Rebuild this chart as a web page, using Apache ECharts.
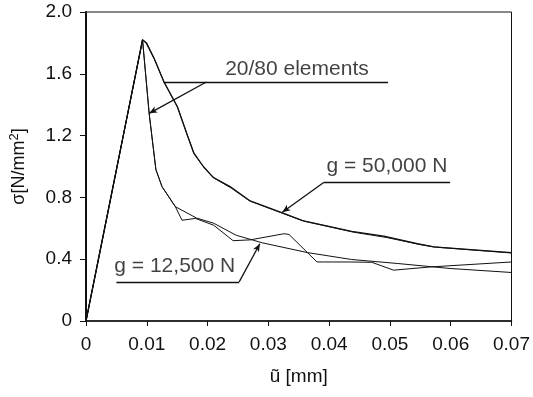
<!DOCTYPE html>
<html><head><meta charset="utf-8">
<script src="https://cdn.jsdelivr.net/npm/echarts@6/dist/echarts.min.js"></script>
<style>html,body{margin:0;padding:0;background:#fff}#c{width:533px;height:397px}</style>
</head><body><div id="c"></div>
<script>
// x ticks
const xTicks = [0, 0.01, 0.02, 0.03, 0.04, 0.05, 0.06, 0.07];
const yTicks = [0, 0.4, 0.8, 1.2, 1.6, 2.0];
// g = 50,000 N (20 and 80 elements)
const upper20 = [[0,0],[0.0093,1.82],[0.0099,1.80],[0.0112,1.70],[0.0128,1.55],[0.015,1.39],[0.0166,1.21],[0.0177,1.09],[0.0193,1.00],[0.0209,0.93],[0.0237,0.87],[0.0269,0.78],[0.0323,0.70],[0.0356,0.65],[0.0437,0.58],[0.049,0.55],[0.0545,0.50],[0.0572,0.48],[0.07,0.443]];
const upper80 = [[0,0],[0.0093,1.82],[0.0100,1.80],[0.0113,1.69],[0.0129,1.54],[0.0151,1.38],[0.0167,1.20],[0.0178,1.08],[0.0195,0.99],[0.0211,0.925],[0.0239,0.86],[0.0270,0.775],[0.0325,0.695],[0.0360,0.645],[0.0440,0.575],[0.0495,0.540],[0.0550,0.495],[0.0575,0.478],[0.07,0.440]];
// g = 12,500 N (jagged and smoother)
const lowerA = [[0,0],[0.0093,1.82],[0.0104,1.34],[0.0115,0.98],[0.0125,0.87],[0.0147,0.74],[0.0158,0.652],[0.018,0.664],[0.021,0.62],[0.0242,0.52],[0.027,0.525],[0.0326,0.565],[0.0334,0.56],[0.038,0.382],[0.0431,0.382],[0.047,0.38],[0.0506,0.329],[0.0567,0.35],[0.07,0.382]];
const lowerB = [[0,0],[0.0093,1.82],[0.0104,1.34],[0.0115,0.98],[0.0125,0.87],[0.0147,0.74],[0.0182,0.666],[0.021,0.633],[0.0247,0.555],[0.029,0.506],[0.0364,0.443],[0.0437,0.398],[0.0513,0.372],[0.0599,0.34],[0.07,0.314]];
// annotations (data coordinates)
const ann2080 = {text:'20/80 elements', textAt:[0.0347,1.63], line:[[0.0128,1.547],[0.0497,1.547]], leader:[[0.0198,1.547],[0.0104,1.344]]};
const ann50 = {text:'g = 50,000 N', textAt:[0.0495,1.0], line:[[0.0391,0.897],[0.0599,0.897]], leader:[[0.0391,0.897],[0.0323,0.704]]};
const ann125 = {text:'g = 12,500 N', textAt:[0.0146,0.357], line:[[0.0050,0.253],[0.0252,0.253]], leader:[[0.0252,0.253],[0.0286,0.50]]};

const FONT = 'Liberation Sans';
const chart = echarts.init(document.getElementById('c'));
function lineSeries(d, w){
  return {type:'line', data:d, showSymbol:false, symbol:'none', lineStyle:{color:'#111', width:w}, animation:false, z:3};
}
function annMark(a){
  return [
    [{coord:a.line[0], symbol:'none'},{coord:a.line[1], symbol:'none'}],
    [{coord:a.leader[0], symbol:'none'},{coord:a.leader[1], symbol:'arrow', symbolSize:[5,8]}]
  ];
}
const anns = [ann2080, ann50, ann125];
const markData = [];
anns.forEach(a => { annMark(a).forEach(m => markData.push(m)); });
chart.setOption({
  animation:false,
  backgroundColor:'#fff',
  grid:{left:81, top:12, right:21, bottom:76, show:true, borderColor:'#111', borderWidth:1},
  xAxis:{type:'value', min:0, max:0.07, interval:0.01,
    name:'ũ [mm]', nameLocation:'middle', nameGap:46,
    nameTextStyle:{fontFamily:FONT, fontSize:19, color:'#111'},
    axisLine:{lineStyle:{color:'#111', width:1.5}},
    axisTick:{length:5, lineStyle:{color:'#111'}},
    splitLine:{show:false},
    axisLabel:{fontFamily:FONT, fontSize:19, color:'#111', margin:14,
      formatter:v=>{const t=xTicks.find(x=>Math.abs(x-v)<1e-9); return t===0?'0':(t!==undefined?t.toFixed(2):'');}}},
  yAxis:{type:'value', min:0, max:2.0, interval:0.4,
    name:'{a|σ[N/mm}{s|2}{a|]}', nameLocation:'middle', nameGap:56, nameRotate:90,
    nameTextStyle:{rich:{a:{fontFamily:FONT, fontSize:18, color:'#111'}, s:{fontFamily:FONT, fontSize:13, color:'#111', verticalAlign:'top', padding:[0,0,9,0]}}},
    axisLine:{lineStyle:{color:'#111', width:2}},
    axisTick:{length:6, lineStyle:{color:'#111'}},
    splitLine:{show:false},
    axisLabel:{fontFamily:FONT, fontSize:19, color:'#111', margin:14,
      formatter:v=>{const t=yTicks.find(x=>Math.abs(x-v)<1e-9); return t===0?'0':(t!==undefined?t.toFixed(1):'');}}},
  series:[
    lineSeries(upper20,1.3), lineSeries(upper80,1.0), lineSeries(lowerA,1.0),
    Object.assign(lineSeries(lowerB,1.0), {
      markLine:{silent:true, animation:false, symbol:'none', label:{show:false},
        lineStyle:{color:'#111', width:1.3, type:'solid'}, data:markData}
    }),
    {type:'scatter', data:anns.map(a=>({value:a.textAt, name:a.text})), symbolSize:0, silent:true, animation:false,
      label:{show:true, position:'inside', formatter:p=>p.name, fontFamily:FONT, fontSize:21, color:'#111'}}
  ]
});
</script></body></html>
